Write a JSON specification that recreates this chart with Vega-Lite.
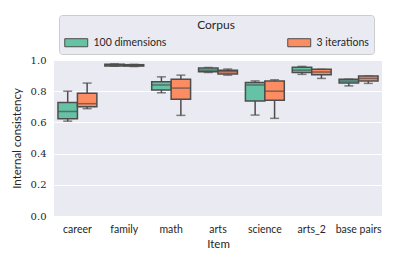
{
  "$schema": "https://vega.github.io/schema/vega-lite/v6.json",
  "width": 328,
  "height": 156,
  "autosize": "none",
  "padding": {"left": 54, "top": 60, "right": 17, "bottom": 50},
  "background": "white",
  "config": {
    "view": {"fill": "#eaeaf2", "stroke": null},
    "axis": {"titleFont": "Lato", "titleFontWeight": "normal", "labelColor": "#262626", "titleColor": "#262626"},
    "axisY": {"tickCount": 5, "labelOverlap": false, "format": ".1f", "grid": true, "gridColor": "white", "gridWidth": 1.2, "domain": false, "ticks": false, "labelFont": "DejaVu Serif", "labelFontSize": 10, "titleFontSize": 11.5, "labelPadding": 8, "titlePadding": 8}
  },
  "data": {"values": [
    {"item": "career", "corpus": "100 dimensions", "lower": 0.608, "q1": 0.624, "median": 0.67, "q3": 0.727, "upper": 0.80},
    {"item": "career", "corpus": "3 iterations", "lower": 0.688, "q1": 0.701, "median": 0.72, "q3": 0.787, "upper": 0.852},
    {"item": "family", "corpus": "100 dimensions", "lower": 0.960, "q1": 0.962, "median": 0.967, "q3": 0.972, "upper": 0.975},
    {"item": "family", "corpus": "3 iterations", "lower": 0.958, "q1": 0.961, "median": 0.966, "q3": 0.970, "upper": 0.972},
    {"item": "math", "corpus": "100 dimensions", "lower": 0.79, "q1": 0.808, "median": 0.84, "q3": 0.86, "upper": 0.892},
    {"item": "math", "corpus": "3 iterations", "lower": 0.645, "q1": 0.748, "median": 0.82, "q3": 0.877, "upper": 0.903},
    {"item": "arts", "corpus": "100 dimensions", "lower": 0.92, "q1": 0.925, "median": 0.935, "q3": 0.948, "upper": 0.952},
    {"item": "arts", "corpus": "3 iterations", "lower": 0.903, "q1": 0.91, "median": 0.925, "q3": 0.935, "upper": 0.942},
    {"item": "science", "corpus": "100 dimensions", "lower": 0.647, "q1": 0.737, "median": 0.84, "q3": 0.856, "upper": 0.866},
    {"item": "science", "corpus": "3 iterations", "lower": 0.626, "q1": 0.742, "median": 0.80, "q3": 0.866, "upper": 0.873},
    {"item": "arts_2", "corpus": "100 dimensions", "lower": 0.908, "q1": 0.92, "median": 0.935, "q3": 0.953, "upper": 0.959},
    {"item": "arts_2", "corpus": "3 iterations", "lower": 0.882, "q1": 0.905, "median": 0.923, "q3": 0.94, "upper": 0.94},
    {"item": "base pairs", "corpus": "100 dimensions", "lower": 0.834, "q1": 0.852, "median": 0.865, "q3": 0.877, "upper": 0.877},
    {"item": "base pairs", "corpus": "3 iterations", "lower": 0.85, "q1": 0.866, "median": 0.882, "q3": 0.897, "upper": 0.897}
  ]},
  "encoding": {
    "x": {
      "field": "item", "type": "nominal",
      "sort": ["career", "family", "math", "arts", "science", "arts_2", "base pairs"],
      "scale": {"paddingInner": 0.17, "paddingOuter": 0.085},
      "axis": {"title": "Item", "labelAngle": 0, "labelFont": "Lato", "labelFontSize": 10.5, "titleFontSize": 11.5, "ticks": false, "domain": false, "labelPadding": 8, "titlePadding": 4}
    },
    "xOffset": {"field": "corpus", "type": "nominal", "scale": {"paddingInner": 0, "paddingOuter": 0}}
  },
  "layer": [
    {
      "mark": {"type": "rule", "color": "#4d4d4d", "strokeWidth": 1.5},
      "encoding": {
        "y": {"field": "lower", "type": "quantitative", "scale": {"domain": [0, 1], "nice": false},
          "axis": {"title": "Internal consistency"}},
        "y2": {"field": "upper"}
      }
    },
    {
      "mark": {"type": "tick", "color": "#4d4d4d", "thickness": 1.5, "size": 9},
      "encoding": {"y": {"field": "lower", "type": "quantitative"}}
    },
    {
      "mark": {"type": "tick", "color": "#4d4d4d", "thickness": 1.5, "size": 9},
      "encoding": {"y": {"field": "upper", "type": "quantitative"}}
    },
    {
      "mark": {"type": "bar", "stroke": "#4d4d4d", "strokeWidth": 1.5, "opacity": 1},
      "encoding": {
        "y": {"field": "q1", "type": "quantitative"},
        "y2": {"field": "q3"},
        "color": {
          "field": "corpus", "type": "nominal",
          "scale": {"domain": ["100 dimensions", "3 iterations"], "range": ["#66c2a5", "#fc8d62"]},
          "legend": {
            "title": "Corpus", "orient": "none", "legendX": 5, "legendY": -45,
            "direction": "horizontal", "columns": 2, "columnPadding": 118,
            "titleAnchor": "middle", "titleFont": "Lato", "titleFontSize": 12, "titleFontWeight": "normal", "titleColor": "#262626", "titlePadding": 4,
            "labelFont": "Lato", "labelFontSize": 10.5, "labelColor": "#262626", "labelOffset": 16.5,
            "symbolType": "M-1,-0.7H3V0.7H-1Z", "symbolSize": 132, "symbolStrokeColor": "#4d4d4d", "symbolStrokeWidth": 1,
            "fillColor": "#eaeaf2", "strokeColor": "#cccccc", "padding": 5, "cornerRadius": 3
          }
        }
      }
    },
    {
      "mark": {"type": "tick", "color": "#4d4d4d", "thickness": 1.5, "size": 19},
      "encoding": {"y": {"field": "median", "type": "quantitative"}}
    }
  ]
}
